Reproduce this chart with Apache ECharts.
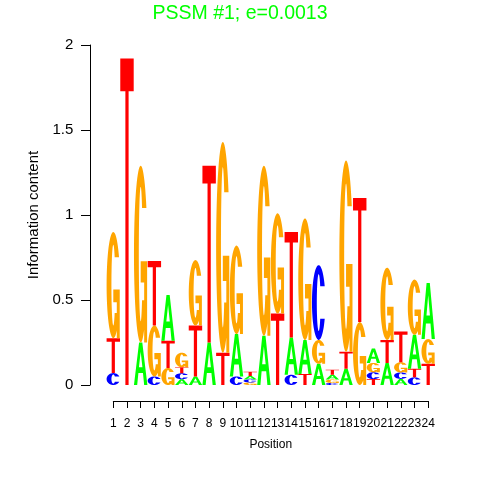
<!DOCTYPE html>
<html>
<head>
<meta charset="utf-8">
<script src="https://cdn.jsdelivr.net/npm/echarts@6/dist/echarts.min.js"></script>
<style>
html, body { margin: 0; padding: 0; background: #fff; }
#chart { width: 480px; height: 480px; }
</style>
</head>
<body>
<div id="chart"></div>
<script>
// information content (bits) of each letter at positions 1..24
const positions = [1, 2, 3, 4, 5, 6, 7, 8, 9, 10, 11, 12, 13, 14, 15, 16, 17, 18, 19, 20, 21, 22, 23, 24];
const heightA = [0, 0, 0.25, 0, 0.27, 0.034, 0.05, 0.25, 0, 0.25, 0.02, 0.29, 0, 0.22, 0.2, 0.125, 0.028, 0.095, 0, 0.085, 0.13, 0.036, 0.2, 0.33];
const heightC = [0.07, 0, 0, 0.05, 0, 0.035, 0, 0, 0, 0.05, 0.018, 0, 0, 0.06, 0, 0.44, 0.012, 0, 0, 0.04, 0, 0.038, 0.045, 0];
const heightG = [0.625, 0, 1.04, 0.3, 0.1, 0.085, 0.385, 0, 1.24, 0.52, 0.015, 1.0, 0.59, 0, 0.715, 0.14, 0.02, 1.125, 0.37, 0.055, 0.425, 0.06, 0.325, 0.145];
const heightT = [0.205, 1.92, 0, 0.38, 0.16, 0.036, 0.3, 1.04, 0.19, 0, 0.025, 0, 0.42, 0.62, 0.065, 0, 0.03, 0.1, 0.73, 0.035, 0.135, 0.18, 0.05, 0.125];

const letters = ['A', 'C', 'G', 'T'];
const letterColors = ['#00ff00', '#0000ff', '#ffa500', '#ff0000'];

// letter outlines in a unit box (y up)
function area(ring) {
  let s = 0;
  for (let i = 0; i < ring.length; i++) {
    const p = ring[i], q = ring[(i + 1) % ring.length];
    s += p[0] * q[1] - q[0] * p[1];
  }
  return s;
}
function orient(ring, ccw) {
  return (area(ring) > 0) === ccw ? ring : ring.slice().reverse();
}
function ringC(open, rix, riy) {
  const pts = [];
  const yT = 0.5 * Math.sin(open);
  const inner = Math.asin(Math.min(1, yT / riy));
  const n = 60;
  for (let j = 0; j <= n; j++) {
    const t = open + (2 * Math.PI - 2 * open) * j / n;
    pts.push([0.5 + 0.5 * Math.cos(t), 0.5 + 0.5 * Math.sin(t)]);
  }
  for (let j = n; j >= 0; j--) {
    const t = inner + (2 * Math.PI - 2 * inner) * j / n;
    pts.push([0.5 + rix * Math.cos(t), 0.5 + riy * Math.sin(t)]);
  }
  return pts;
}
const glyphs = {
  A: [
    orient([[0, 0], [0.38, 1], [0.62, 1], [1, 0], [0.76, 0], [0.67, 0.28], [0.33, 0.28], [0.24, 0]], true),
    orient([[0.37, 0.42], [0.5, 0.78], [0.63, 0.42]], false)
  ],
  C: [orient(ringC(0.45, 0.14, 0.38), true)],
  G: [
    orient(ringC(0.55, 0.14, 0.38), true),
    orient([[0.5, 0.46], [0.98, 0.46], [0.98, 0], [0.76, 0], [0.76, 0.34], [0.5, 0.34]], true)
  ],
  T: [orient([[0, 1], [1, 1], [1, 0.9], [0.62, 0.9], [0.62, 0], [0.38, 0], [0.38, 0.9], [0, 0.9]], true)]
};

// stack letters per column, smallest at the bottom
const stackData = [];
positions.forEach((pos, i) => {
  const col = [heightA[i], heightC[i], heightG[i], heightT[i]]
    .map((h, k) => ({ h: h, k: k }))
    .filter(d => d.h > 0)
    .sort((a, b) => a.h - b.h);
  let base = 0;
  col.forEach(d => {
    stackData.push([pos, base, base + d.h, d.k]);
    base += d.h;
  });
});

function renderLetter(params, api) {
  const pos = api.value(0), y0 = api.value(1), y1 = api.value(2), k = api.value(3);
  const a = api.coord([pos - 0.49, y0]);
  const b = api.coord([pos + 0.49, y1]);
  const w = b[0] - a[0], h = a[1] - b[1];
  let d = '';
  glyphs[letters[k]].forEach(ring => {
    ring.forEach((p, j) => {
      d += (j ? 'L' : 'M') + (a[0] + p[0] * w).toFixed(2) + ' ' + (a[1] - p[1] * h).toFixed(2);
    });
    d += 'Z';
  });
  return { type: 'path', shape: { pathData: d }, style: { fill: letterColors[k] } };
}

const myChart = echarts.init(document.getElementById('chart'));
const option = {
  animation: false,
  textStyle: { fontFamily: 'Liberation Sans' },
  title: {
    text: 'PSSM #1; e=0.0013',
    left: 'center',
    top: -1,
    textStyle: { color: '#00ff00', fontSize: 19.5, fontWeight: 'normal', fontFamily: 'Liberation Sans' }
  },
  grid: { left: 113.3, right: 51.8, top: 45, bottom: 95, outerBoundsMode: 'none' },
  xAxis: {
    type: 'value',
    min: 1,
    max: 24,
    interval: 1,
    offset: 16,
    name: 'Position',
    nameLocation: 'middle',
    nameGap: 37.7,
    nameTextStyle: { color: '#000', fontSize: 12 },
    axisLine: { show: true, onZero: false, lineStyle: { color: '#000', width: 1 } },
    axisTick: { show: true, length: 7, lineStyle: { color: '#000' } },
    axisLabel: { color: '#000', fontSize: 12, margin: 16.5, hideOverlap: false, showMinLabel: true, showMaxLabel: true },
    splitLine: { show: false }
  },
  yAxis: {
    type: 'value',
    min: 0,
    max: 2,
    interval: 0.5,
    offset: 23.3,
    name: 'Information content',
    nameLocation: 'middle',
    nameGap: 42,
    nameTextStyle: { color: '#000', fontSize: 15 },
    axisLine: { show: true, onZero: false, lineStyle: { color: '#000', width: 1 } },
    axisTick: { show: true, length: 9, lineStyle: { color: '#000' } },
    axisLabel: { color: '#000', fontSize: 15, margin: 16.7 },
    splitLine: { show: false }
  },
  series: [{
    type: 'custom',
    clip: false,
    renderItem: renderLetter,
    encode: { x: 0, y: [1, 2] },
    data: stackData
  }]
};
myChart.setOption(option);
</script>
</body>
</html>
